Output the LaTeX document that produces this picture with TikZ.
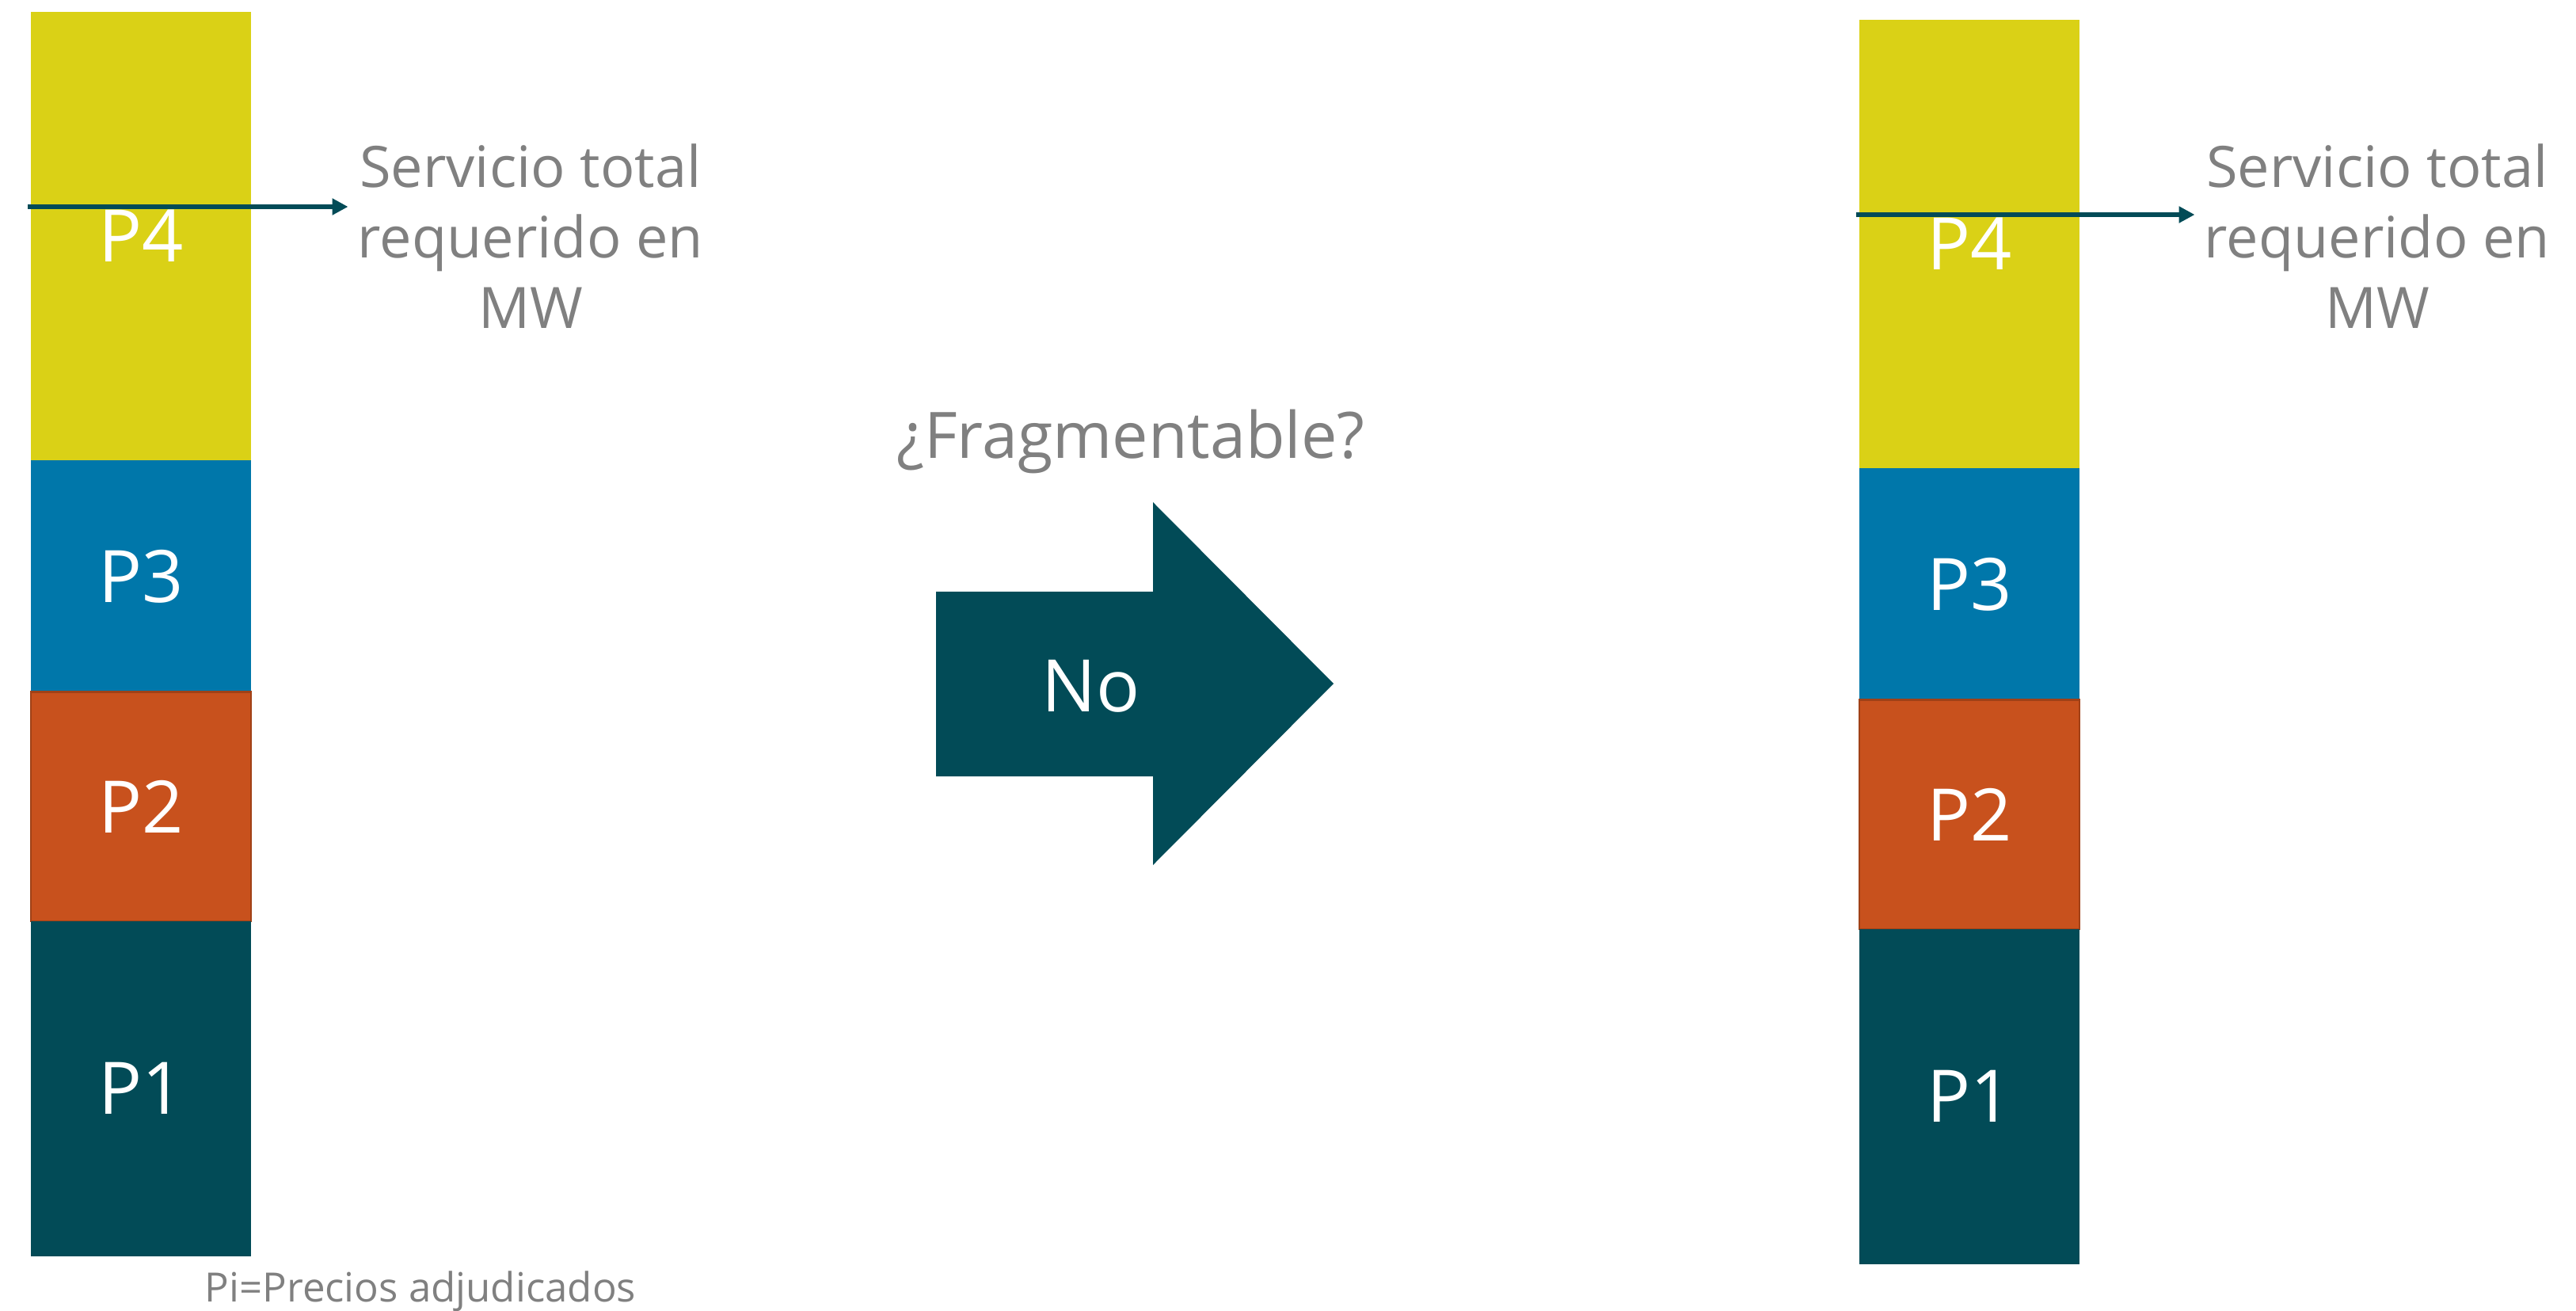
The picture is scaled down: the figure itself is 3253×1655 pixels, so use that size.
\documentclass[tikz,border=0pt]{standalone}
\usepackage{fontspec}
\setmainfont{Open Sans}
\usetikzlibrary{positioning,arrows.meta}

\definecolor{amarillo}{HTML}{DAD116}
\definecolor{azul}{HTML}{0077AA}
\definecolor{naranja}{HTML}{C8511D}
\definecolor{petroleo}{HTML}{024B57}
\definecolor{gris}{HTML}{808080}

\tikzset{
	bloque/.style={anchor=north west,inner sep=0pt,outer sep=0pt,minimum width=2.78cm,text=white,font=\fontsize{26}{31}\selectfont},
	leyenda/.style={text=gris,align=center,font=\fontsize{20.5}{25.3}\selectfont},
	flecha/.style={draw=petroleo,line width=1.8pt,-{Triangle[length=2mm,width=2mm]}}
}

\begin{document}
\begin{tikzpicture}[x=0.01cm,y=-0.01cm] % 1 unité = 1 pixel de l'image

\useasboundingbox (0,0) rectangle (3253,1655);

\foreach \x/\y/\tx/\lado in {39/15/670/izq,2348/25/3002/der} % les deux piles P4..P1
{
	\node[bloque,fill=amarillo,minimum height=5.66cm] (\lado4) at (\x,\y) {P4};
	\node[bloque,fill=azul,minimum height=2.92cm] (\lado3) at (\lado4.south west) {P3};
	\node[bloque,fill=naranja,draw=naranja!80!black,line width=0.6pt,minimum height=2.89cm] (\lado2) at (\lado3.south west) {P2};
	\node[bloque,fill=petroleo,minimum height=4.23cm] (\lado1) at (\lado2.south west) {P1};
	\node[leyenda] (serv\lado) at (\tx,298) {Servicio total\\requerido en\\MW};
	\coordinate (\lado0) at (\x-4,\y+246);
	\draw[flecha] (\lado0) -- (\lado0 -| serv\lado.west);
}

\node[text=gris,anchor=base,font=\fontsize{23}{28}\selectfont] (pregunta) at (1428,579) {¿Fragmentable?};

% grosse flèche
\fill[petroleo] (1182,747) -- (1456,747) -- (1456,634) -- (1684,863) -- (1456,1092) -- (1456,980) -- (1182,980) -- cycle;
\node[text=white,anchor=base,font=\fontsize{26}{31}\selectfont] (no) at (1378,899) {No};

\node[text=gris,anchor=base,font=\fontsize{14.5}{17}\selectfont] (precios) at (531,1643) {Pi=Precios adjudicados};

\end{tikzpicture}
\end{document}
